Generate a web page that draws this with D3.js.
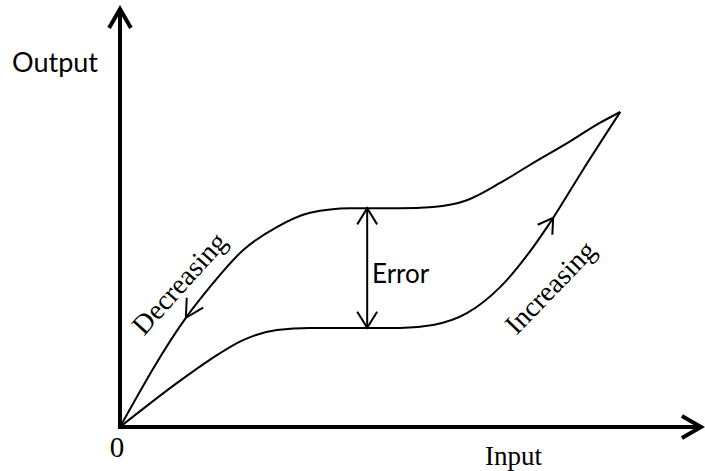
<!DOCTYPE html>
<html>
<head>
<meta charset="utf-8">
<script src="https://cdn.jsdelivr.net/npm/d3@7"></script>
<style>
  body { margin: 0; background: #fff; }
  svg { display: block; }
</style>
</head>
<body>
<svg id="chart"></svg>
<script>
// input / output values (arbitrary units 0..10)
const upperX = [0, 1.13, 1.54, 2.11, 2.69, 3.26, 3.95, 4.24, 4.80, 5.37, 5.95, 6.52, 7.09, 7.67, 8.23, 8.58];
const upperY = [0, 2.60, 3.33, 4.21, 4.76, 5.10, 5.21, 5.21, 5.21, 5.24, 5.40, 5.81, 6.29, 6.76, 7.24, 7.50];
const lowerX = [0, 0.98, 1.54, 2.11, 2.69, 3.26, 3.95, 4.24, 4.80, 5.37, 5.95, 6.52, 7.09, 7.43, 7.94, 8.58];
const lowerY = [0, 1.05, 1.60, 2.07, 2.31, 2.36, 2.36, 2.36, 2.36, 2.43, 2.71, 3.33, 4.29, 4.98, 6.12, 7.50];
const errorX = 4.24;
const decArrowIdx = 1;   // point on upper branch carrying the arrow
const incArrowIdx = 13;  // point on lower branch carrying the arrow

const width = 705, height = 471;
const svg = d3.select("#chart").attr("width", width).attr("height", height);

const x = d3.scaleLinear().domain([0, 10]).range([120, 703]);
const y = d3.scaleLinear().domain([0, 10]).range([427, 7]);

const upper = upperX.map((v, i) => [v, upperY[i]]);
const lower = lowerX.map((v, i) => [v, lowerY[i]]);

const line = d3.line()
    .x(d => x(d[0]))
    .y(d => y(d[1]))
    .curve(d3.curveMonotoneX);

// chevron arrowhead at (px,py) pointing along angle a
function chevron(px, py, a, len, spread, sw) {
    const p1 = [px - len * Math.cos(a - spread), py - len * Math.sin(a - spread)];
    const p2 = [px - len * Math.cos(a + spread), py - len * Math.sin(a + spread)];
    svg.append("path")
        .attr("d", `M${p1[0]},${p1[1]}L${px},${py}L${p2[0]},${p2[1]}`)
        .attr("fill", "none")
        .attr("stroke", "#000")
        .attr("stroke-width", sw)
        .attr("stroke-linejoin", "miter");
}

// axes
svg.append("line")
    .attr("x1", x(0)).attr("y1", y(0) + 2)
    .attr("x2", x(0)).attr("y2", y(10) + 1)
    .attr("stroke", "#000").attr("stroke-width", 4);
svg.append("line")
    .attr("x1", x(0) - 2).attr("y1", y(0))
    .attr("x2", x(10) - 1).attr("y2", y(0))
    .attr("stroke", "#000").attr("stroke-width", 4);
chevron(x(0), y(10) + 2, -Math.PI / 2, 22, 0.52, 4);
chevron(x(10) - 2, y(0), 0, 22, 0.52, 4);

// branches
svg.append("path").datum(upper).attr("d", line)
    .attr("fill", "none").attr("stroke", "#000").attr("stroke-width", 2);
svg.append("path").datum(lower).attr("d", line)
    .attr("fill", "none").attr("stroke", "#000").attr("stroke-width", 2);

// direction arrows
{
    const p = upper[decArrowIdx], q = upper[decArrowIdx - 1];
    const a = Math.atan2(y(q[1]) - y(p[1]), x(q[0]) - x(p[0]));
    chevron(x(p[0]), y(p[1]), a, 20, 0.5, 2);
}
{
    const p = lower[incArrowIdx], q = lower[incArrowIdx - 1];
    const a = Math.atan2(y(p[1]) - y(q[1]), x(p[0]) - x(q[0]));
    chevron(x(p[0]), y(p[1]), a, 17, 0.55, 2);
}

// error arrow
const eTop = upperY[upperX.indexOf(errorX)];
const eBot = lowerY[lowerX.indexOf(errorX)];
svg.append("line")
    .attr("x1", x(errorX)).attr("y1", y(eTop))
    .attr("x2", x(errorX)).attr("y2", y(eBot))
    .attr("stroke", "#000").attr("stroke-width", 2);
chevron(x(errorX), y(eTop), -Math.PI / 2, 19, 0.55, 2);
chevron(x(errorX), y(eBot), Math.PI / 2, 19, 0.55, 2);

// labels
const sans = "Lato, 'Open Sans', sans-serif";
const serif = "'Liberation Serif', 'Times New Roman', serif";

svg.append("text").attr("x", 12).attr("y", 72)
    .style("font-family", sans).style("font-size", "27px").text("Output");
svg.append("text").attr("x", 372).attr("y", 283)
    .style("font-family", sans).style("font-size", "26px").text("Error");
svg.append("text").attr("x", 117).attr("y", 457).attr("text-anchor", "middle")
    .style("font-family", serif).style("font-size", "29px").text("0");
svg.append("text").attr("x", 485).attr("y", 465)
    .style("font-family", serif).style("font-size", "27px").text("Input");
svg.append("text")
    .attr("transform", "translate(180,284) rotate(-48)")
    .attr("text-anchor", "middle").attr("dy", "0.3em")
    .style("font-family", serif).style("font-size", "28px").text("Decreasing");
svg.append("text")
    .attr("transform", "translate(551,288) rotate(-46)")
    .attr("text-anchor", "middle").attr("dy", "0.3em")
    .style("font-family", serif).style("font-size", "28px").text("Increasing");
</script>
</body>
</html>
